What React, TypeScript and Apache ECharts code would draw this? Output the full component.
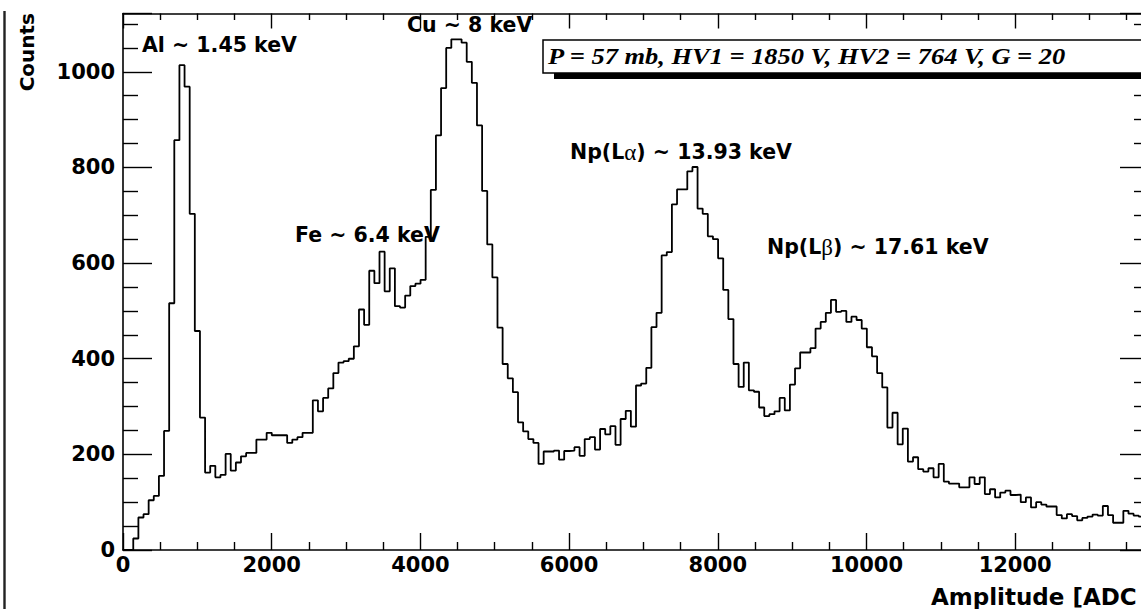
import React, { useEffect, useRef } from "react";
import * as echarts from "echarts";

// Histogram binning: 200 bins of 69 ADC channels each (0 .. 13800)
const BIN_WIDTH = 69;
const X_MIN = 0;
const X_MAX = 13800;
const Y_MIN = 0;
const Y_MAX = 1122;
const X_INTERVAL = 2000;
const Y_INTERVAL = 200;

// Counts per bin
const counts: number[] = [
  0, 0, 24, 68, 75, 104, 113, 155, 249, 516,
  857, 1014, 969, 703, 458, 277, 162, 176, 152, 157,
  201, 166, 183, 196, 203, 203, 231, 231, 245, 240,
  240, 240, 224, 231, 236, 245, 245, 313, 290, 318,
  338, 370, 392, 395, 400, 426, 503, 471, 584, 558,
  624, 541, 589, 510, 507, 532, 552, 557, 565, 655,
  753, 867, 966, 1050, 1068, 1068, 1061, 1021, 977, 888,
  751, 639, 570, 465, 389, 359, 330, 267, 248, 232,
  224, 180, 206, 206, 208, 189, 207, 208, 215, 197,
  232, 236, 210, 253, 242, 259, 220, 274, 291, 258,
  344, 348, 381, 466, 496, 616, 623, 723, 754, 754,
  792, 801, 714, 703, 656, 650, 610, 544, 483, 389,
  341, 392, 334, 331, 298, 280, 284, 290, 318, 292,
  346, 380, 413, 413, 422, 463, 477, 496, 523, 498,
  500, 477, 488, 481, 463, 424, 405, 370, 340, 256,
  287, 221, 254, 185, 194, 169, 164, 171, 152, 180,
  143, 139, 139, 131, 131, 152, 138, 152, 117, 127,
  110, 120, 124, 115, 116, 100, 110, 89, 100, 95,
  91, 91, 73, 66, 75, 71, 62, 67, 70, 74,
  72, 92, 73, 57, 57, 82, 76, 72, 70, 66,
];

// Peak annotations
const peakNames: string[] = [
  "Al ~ 1.45 keV",
  "Cu ~ 8 keV",
  "Fe ~ 6.4 keV",
  "Np(L{g|\u03b1}) ~ 13.93 keV",
  "Np(L{g|\u03b2}) ~ 17.61 keV",
];

const runInfo = "P = 57 mb, HV1 = 1850 V, HV2 = 764 V, G = 20";
const xTitle = "Amplitude [ADC";
const yTitle = "Counts";

const SANS = '"DejaVu Sans"';
const BOLD_FONT = `bold 20.5px ${SANS}`;

function buildSteps(): [number, number][] {
  const pts: [number, number][] = counts.map((c, i) => [i * BIN_WIDTH, c]);
  pts.push([counts.length * BIN_WIDTH, counts[counts.length - 1]]);
  return pts;
}

// The frame's right edge sits slightly past the visible page edge.
const CHART_WIDTH = 1149;
const CHART_HEIGHT = 609;

export default function App() {
  const ref = useRef<HTMLDivElement>(null);

  useEffect(() => {
    if (!ref.current) return;
    const chart = echarts.init(ref.current, undefined, { renderer: "svg" });

    const axisLine = { show: true, onZero: false, lineStyle: { color: "#000", width: 1.6 } };
    const tickLine = { color: "#000", width: 1.4 };
    const labelStyle = {
      color: "#000",
      fontFamily: "DejaVu Sans",
      fontWeight: "bold" as const,
      fontSize: 21,
      formatter: (v: number) => String(v),
    };

    const peakPos = [
      { x: 142, y: 45 },
      { x: 407, y: 25 },
      { x: 295, y: 235 },
      { x: 570, y: 152 },
      { x: 767, y: 247 },
    ];

    const option: any = {
      animation: false,
      backgroundColor: "#ffffff",
      grid: {
        left: 123,
        right: 0,
        top: 13.5,
        bottom: 59,
        containLabel: false,
        outerBoundsMode: "none",
      },
      xAxis: [
        {
          type: "value",
          position: "bottom",
          min: X_MIN,
          max: X_MAX,
          interval: X_INTERVAL,
          axisLine,
          axisTick: { show: true, inside: true, length: 17, lineStyle: tickLine },
          minorTick: { show: true, splitNumber: 4, length: 8, lineStyle: tickLine },
          axisLabel: { ...labelStyle, margin: 4, showMaxLabel: false },
          splitLine: { show: false },
          minorSplitLine: { show: false },
        },
        {
          type: "value",
          position: "top",
          min: X_MIN,
          max: X_MAX,
          interval: X_INTERVAL,
          axisLine,
          axisTick: { show: true, inside: true, length: 15, lineStyle: tickLine },
          minorTick: { show: true, splitNumber: 4, length: 6.5, lineStyle: tickLine },
          axisLabel: { show: false },
          splitLine: { show: false },
          minorSplitLine: { show: false },
        },
      ],
      yAxis: [
        {
          type: "value",
          position: "left",
          min: Y_MIN,
          max: Y_MAX,
          interval: Y_INTERVAL,
          axisLine,
          axisTick: { show: true, inside: true, length: 29, lineStyle: tickLine },
          minorTick: { show: true, splitNumber: 4, length: 15, lineStyle: tickLine },
          axisLabel: { ...labelStyle, margin: 8, showMaxLabel: false },
          splitLine: { show: false },
          minorSplitLine: { show: false },
        },
        {
          type: "value",
          position: "right",
          min: Y_MIN,
          max: Y_MAX,
          interval: Y_INTERVAL,
          axisLine,
          axisTick: { show: true, inside: true, length: 29, lineStyle: tickLine },
          minorTick: { show: true, splitNumber: 4, length: 15, lineStyle: tickLine },
          axisLabel: { show: false },
          splitLine: { show: false },
          minorSplitLine: { show: false },
        },
      ],
      series: [
        {
          type: "line",
          name: "spectrum",
          xAxisIndex: 0,
          yAxisIndex: 0,
          step: "end",
          data: buildSteps(),
          symbol: "none",
          showSymbol: false,
          silent: true,
          clip: true,
          lineStyle: { color: "#000", width: 1.8 },
        },
      ],
      graphic: [
        // page frame line at the far left
        {
          type: "line",
          shape: { x1: 4.5, y1: 11, x2: 4.5, y2: 609 },
          style: { stroke: "#222", lineWidth: 2.4 },
        },
        // y-axis title
        {
          type: "text",
          x: 27,
          y: 13,
          rotation: Math.PI / 2,
          style: {
            text: yTitle,
            font: `bold 20px ${SANS}`,
            fill: "#000",
            align: "right",
            verticalAlign: "middle",
          },
        },
        // x-axis title
        {
          type: "text",
          x: 931,
          y: 597,
          style: {
            text: xTitle,
            font: `bold 23px ${SANS}`,
            fill: "#000",
            align: "left",
            verticalAlign: "middle",
          },
        },
        // peak annotations
        ...peakNames.map((t, i) => ({
          type: "text",
          x: peakPos[i].x,
          y: peakPos[i].y,
          z: 10,
          style: {
            text: t,
            font: BOLD_FONT,
            fill: "#000",
            align: "left",
            verticalAlign: "middle",
            rich: {
              g: {
                fontFamily: "Liberation Serif",
                fontWeight: "normal",
                fontSize: 23,
                fill: "#000",
              },
            },
          },
        })),
        // run-condition box with drop shadow
        {
          type: "rect",
          z: 20,
          shape: { x: 554, y: 46, width: 640, height: 33 },
          style: { fill: "#000" },
        },
        {
          type: "rect",
          z: 21,
          shape: { x: 543, y: 40, width: 640, height: 33 },
          style: { fill: "#fff", stroke: "#000", lineWidth: 1.5 },
        },
        {
          type: "text",
          z: 22,
          x: 548,
          y: 56,
          scaleX: 1.15,
          style: {
            text: runInfo,
            font: 'italic bold 23px "Liberation Serif"',
            fill: "#000",
            align: "left",
            verticalAlign: "middle",
          },
        },
      ],
    };

    chart.setOption(option);
    return () => {
      chart.dispose();
    };
  }, []);

  return (
    <div
      ref={ref}
      style={{
        position: "fixed",
        left: 0,
        top: 0,
        width: CHART_WIDTH,
        height: CHART_HEIGHT,
        background: "#fff",
      }}
    />
  );
}
